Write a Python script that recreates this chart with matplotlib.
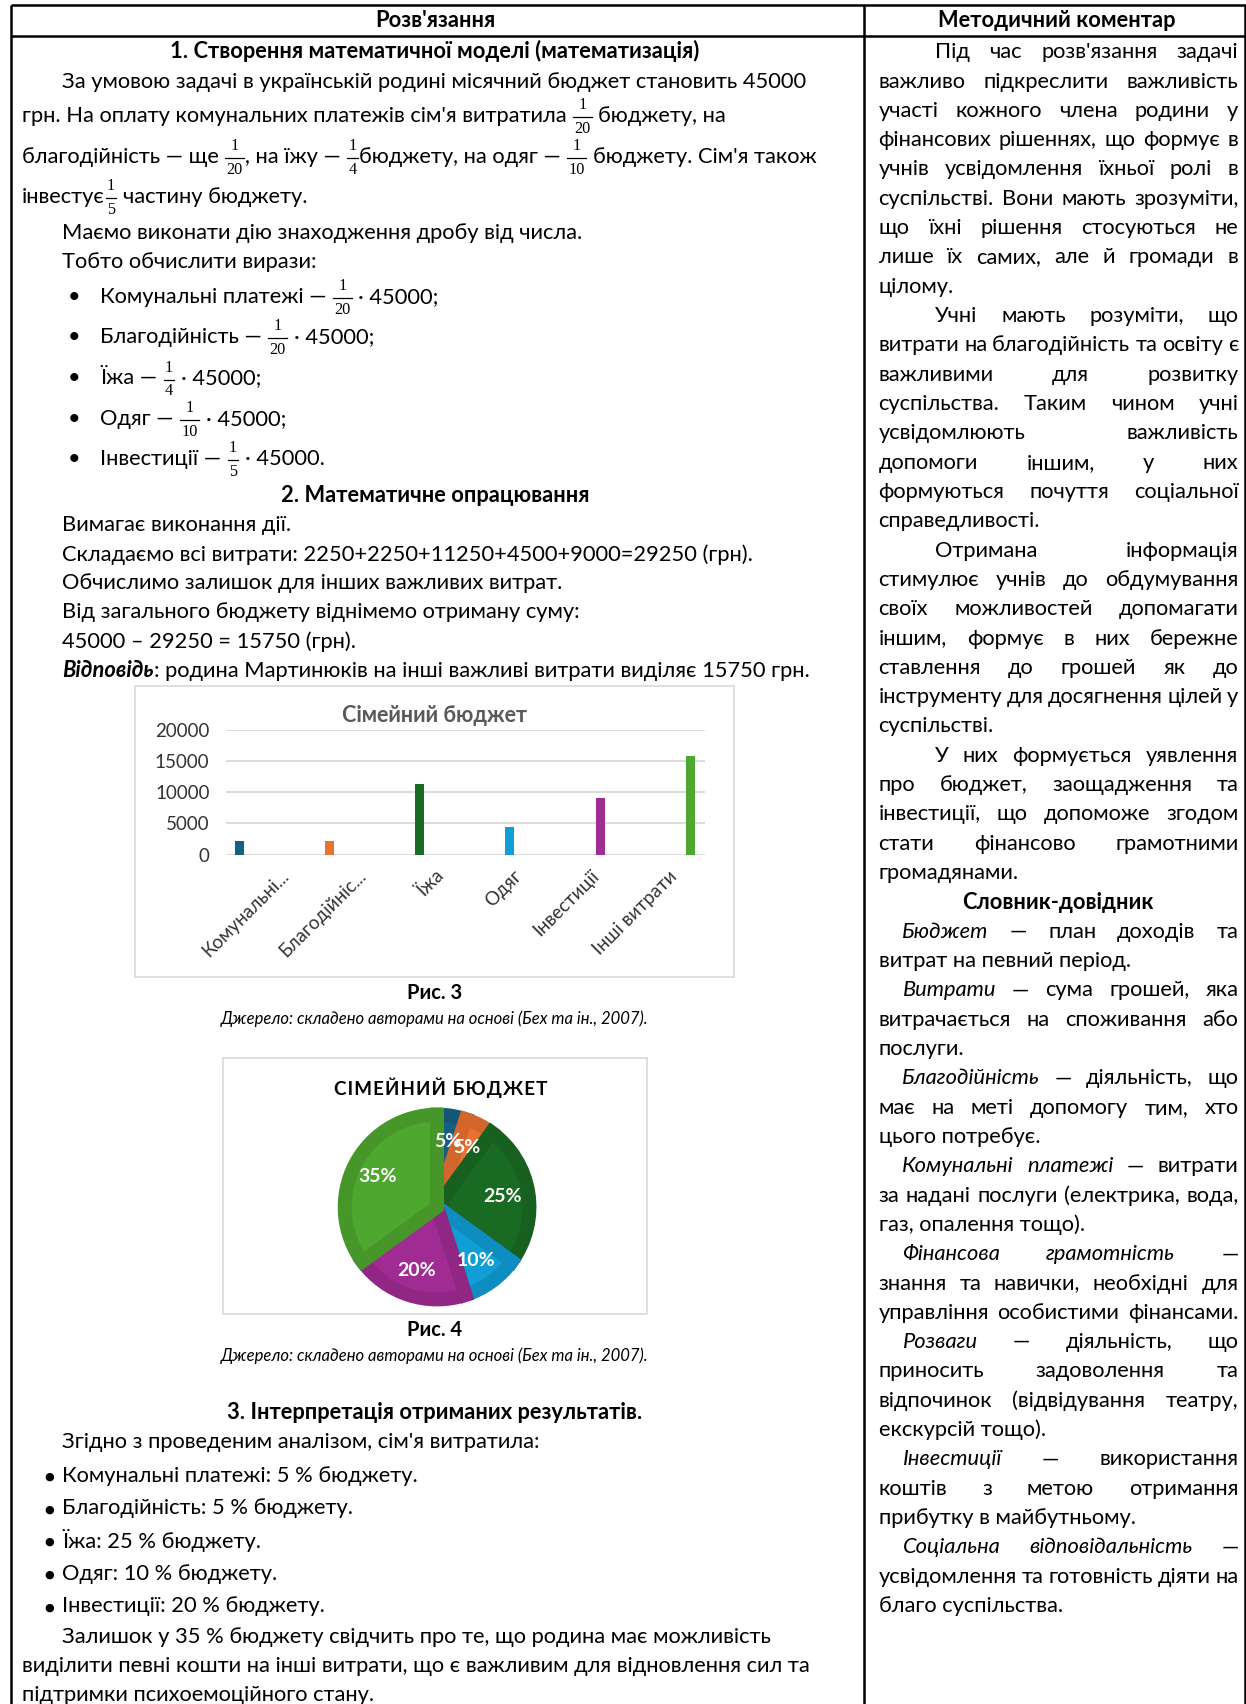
import numpy as np
import matplotlib.pyplot as plt
from matplotlib.patches import Rectangle
from matplotlib.colors import to_rgb

plt.rcParams['font.family'] = ['Lato', 'DejaVu Sans']

# ---- chart data ----
categories = ['Комунальні платежі', 'Благодійність', 'Їжа', 'Одяг', 'Інвестиції', 'Інші витрати']
tick_labels = ['Комунальні...', 'Благодійніс...', 'Їжа', 'Одяг', 'Інвестиції', 'Інші витрати']
amounts = [2250, 2250, 11250, 4500, 9000, 15750]
shares = [5, 5, 25, 10, 20, 35]
fractions = [('1', '20'), ('1', '20'), ('1', '4'), ('1', '10'), ('1', '5')]
colors = ['#156082', '#E97132', '#196B24', '#0F9ED5', '#A02B93', '#4EA72E']
y_ticks = [0, 5000, 10000, 15000, 20000]

# page laid out in units of 1146 x 1567, saved as 1246 x 1704 px
W, H = 1146, 1567
PX = W / 1246.0

fig = plt.figure(figsize=(12.46, 17.04), dpi=100)
ax = fig.add_axes([0, 0, 1, 1])
ax.set_xlim(0, W)
ax.set_ylim(H, 0)
ax.axis('off')
rend = fig.canvas.get_renderer()

STY = {'n': {}, 'b': {'weight': 'bold'}, 'i': {'style': 'italic'},
       'bi': {'weight': 'bold', 'style': 'italic'}}
FS = 16


def put(x, y, s, st='n', size=None, ha='left', **kw):
    return ax.text(x, y, s, ha=ha, va='center', fontsize=size or FS, **STY[st], **kw)


def tw(t):
    return t.get_window_extent(renderer=rend).width * PX


# size body text so that a reference line spans the same width as in the page
_t = put(57, 75, 'За умовою задачі в українській родині місячний бюджет становить 45000')
FS = 16 * 691 / tw(_t)
_t.remove()
_a, _b = put(0, 0, 'x x'), put(0, 0, 'xx')
SP = tw(_a) - tw(_b)
_a.remove()
_b.remove()
FR = FS * 0.74


def frac(x, y, num, den):
    a = ax.text(x, y - 10, num, ha='center', va='center', fontsize=FR, family=['Liberation Serif'])
    b = ax.text(x, y + 12, den, ha='center', va='center', fontsize=FR, family=['Liberation Serif'])
    w = max(tw(a), tw(b)) + 4
    a.set_x(x + w / 2)
    b.set_x(x + w / 2)
    ax.plot([x + 1, x + w - 1], [y + 1, y + 1], color='k', lw=0.9)
    return w


def T(s, st='n'):
    return ('t', s, st)


def Fr(n, d):
    return ('f', n, d)


def seq(x, y, parts):
    for p in parts:
        if p[0] == 'f':
            x += frac(x, y, p[1], p[2])
        else:
            s, st = p[1], p[2]
            if s.startswith(' '):
                x += SP
            t = put(x, y, s.strip(), st)
            x += tw(t)
            if s.endswith(' '):
                x += SP


def just(x0, x1, y, text, n_ital=0):
    words = text.split()
    ts = [put(x0, y, w, 'i' if k < n_ital else 'n') for k, w in enumerate(words)]
    ws = [tw(t) for t in ts]
    gap = (x1 - x0 - sum(ws)) / max(len(ws) - 1, 1)
    x = x0
    for t, w in zip(ts, ws):
        t.set_x(x)
        x += w + gap


# ---- table frame ----
for xs, ys in [([10, 1146], [5, 5]), ([10, 1146], [33, 33]), ([10, 10], [5, H]),
               ([795, 795], [5, H]), ([1145, 1145], [5, H])]:
    ax.plot(xs, ys, color='k', lw=1.8, solid_capstyle='butt')

put(400, 19, "Розв'язання", 'b', ha='center')
put(972, 19, 'Методичний коментар', 'b', ha='center')

# ---- left column ----
put(400, 47, '1. Створення математичної моделі (математизація)', 'b', ha='center')
left_lines = [
    (75, 57, [T('За умовою задачі в українській родині місячний бюджет становить 45000')]),
    (107, 20, [T("грн. На оплату комунальних платежів сім'я витратила "), Fr('1', '20'), T(' бюджету, на')]),
    (144, 20, [T('благодійність — ще '), Fr('1', '20'), T(', на їжу — '), Fr('1', '4'),
               T('бюджету, на одяг — '), Fr('1', '10'), T(" бюджету. Сім'я також")]),
    (181, 20, [T('інвестує'), Fr('1', '5'), T(' частину бюджету.')]),
    (214, 57, [T('Маємо виконати дію знаходження дробу від числа.')]),
    (241, 57, [T('Тобто обчислити вирази:')]),
    (483, 57, [T('Вимагає виконання дії.')]),
    (510, 57, [T('Складаємо всі витрати: 2250+2250+11250+4500+9000=29250 (грн).')]),
    (536, 57, [T('Обчислимо залишок для інших важливих витрат.')]),
    (563, 57, [T('Від загального бюджету віднімемо отриману суму:')]),
    (590, 57, [T('45000 – 29250 = 15750 (грн).')]),
    (617, 57, [T('Відповідь', 'bi'), T(': родина Мартинюків на інші важливі витрати виділяє 15750 грн.')]),
    (1326, 57, [T("Згідно з проведеним аналізом, сім'я витратила:")]),
    (1505, 57, [T('Залишок у 35 % бюджету свідчить про те, що родина має можливість')]),
    (1532, 20, [T('виділити певні кошти на інші витрати, що є важливим для відновлення сил та')]),
    (1559, 20, [T('підтримки психоемоційного стану.')]),
]
for y, x, parts in left_lines:
    seq(x, y, parts)

bullet_y = [273, 310, 348, 385, 422]
for k, (y, name, (n, d)) in enumerate(zip(bullet_y, categories, fractions)):
    put(62, y, '•')
    end = '.' if k == len(bullet_y) - 1 else ';'
    seq(92, y, [T(name + ' — '), Fr(n, d), T(' · 45000' + end)])

put(400, 456, '2. Математичне опрацювання', 'b', ha='center')
put(400, 1299, '3. Інтерпретація отриманих результатів.', 'b', ha='center')

for y, name, p in zip([1357, 1387, 1417, 1447, 1477], categories, shares):
    put(41, y + 1, '●', size=8, family=['DejaVu Sans'])
    put(57, y, f'{name}: {p} % бюджету.')

# captions
for y0, fig_no in [(913, 'Рис. 3'), (1223, 'Рис. 4')]:
    put(400, y0, fig_no, 'b', size=FS * 0.92, ha='center')
    put(400, y0 + 24, 'Джерело: складено авторами на основі (Бех та ін., 2007).', 'i',
        size=FS * 0.76, ha='center')

# ---- right column ----
right_lines = [
    ('p', 0, "Під час розв'язання задачі"),
    ('j', 0, 'важливо підкреслити важливість'),
    ('j', 0, 'участі кожного члена родини у'),
    ('j', 0, 'фінансових рішеннях, що формує в'),
    ('j', 0, 'учнів усвідомлення їхньої ролі в'),
    ('j', 0, 'суспільстві. Вони мають зрозуміти,'),
    ('j', 0, 'що їхні рішення стосуються не'),
    ('j', 0, 'лише їх самих, але й громади в'),
    ('l', 0, 'цілому.'),
    ('p', 0, 'Учні мають розуміти, що'),
    ('j', 0, 'витрати на благодійність та освіту є'),
    ('j', 0, 'важливими для розвитку'),
    ('j', 0, 'суспільства. Таким чином учні'),
    ('j', 0, 'усвідомлюють важливість'),
    ('j', 0, 'допомоги іншим, у них'),
    ('j', 0, 'формуються почуття соціальної'),
    ('l', 0, 'справедливості.'),
    ('p', 0, 'Отримана інформація'),
    ('j', 0, 'стимулює учнів до обдумування'),
    ('j', 0, 'своїх можливостей допомагати'),
    ('j', 0, 'іншим, формує в них бережне'),
    ('j', 0, 'ставлення до грошей як до'),
    ('j', 0, 'інструменту для досягнення цілей у'),
    ('l', 0, 'суспільстві.'),
    ('p', 0, 'У них формується уявлення'),
    ('j', 0, 'про бюджет, заощадження та'),
    ('j', 0, 'інвестиції, що допоможе згодом'),
    ('j', 0, 'стати фінансово грамотними'),
    ('l', 0, 'громадянами.'),
    ('c', 0, 'Словник-довідник'),
    ('g', 1, 'Бюджет — план доходів та'),
    ('l', 0, 'витрат на певний період.'),
    ('g', 1, 'Витрати — сума грошей, яка'),
    ('j', 0, 'витрачається на споживання або'),
    ('l', 0, 'послуги.'),
    ('g', 1, 'Благодійність — діяльність, що'),
    ('j', 0, 'має на меті допомогу тим, хто'),
    ('l', 0, 'цього потребує.'),
    ('g', 2, 'Комунальні платежі — витрати'),
    ('j', 0, 'за надані послуги (електрика, вода,'),
    ('l', 0, 'газ, опалення тощо).'),
    ('g', 2, 'Фінансова грамотність —'),
    ('j', 0, 'знання та навички, необхідні для'),
    ('j', 0, 'управління особистими фінансами.'),
    ('g', 1, 'Розваги — діяльність, що'),
    ('j', 0, 'приносить задоволення та'),
    ('j', 0, 'відпочинок (відвідування театру,'),
    ('l', 0, 'екскурсій тощо).'),
    ('g', 1, 'Інвестиції — використання'),
    ('j', 0, 'коштів з метою отримання'),
    ('l', 0, 'прибутку в майбутньому.'),
    ('g', 2, 'Соціальна відповідальність —'),
    ('j', 0, 'усвідомлення та готовність діяти на'),
    ('l', 0, 'благо суспільства.'),
]
RX0, RX1 = 808, 1139
for k, (mode, n_it, text) in enumerate(right_lines):
    y = 48 + k * 26.96
    if mode == 'p':
        just(RX0 + 52, RX1, y, text)
    elif mode == 'g':
        just(RX0 + 22, RX1, y, text, n_it)
    elif mode == 'j':
        just(RX0, RX1, y, text)
    elif mode == 'c':
        put(973, y, text, 'b', ha='center')
    else:
        put(RX0, y, text)

# ---- bar chart (Рис. 3) ----
ax.add_patch(Rectangle((124, 631), 551, 267, fill=False, ec='#D9D9D9', lw=1.2))
put(400, 658, 'Сімейний бюджет', 'b', size=15.5, ha='center', color='#595959')
bx = fig.add_axes([208 / W, 1 - 786 / H, 440 / W, 115 / H])
pos = np.arange(len(amounts))
bx.bar(pos, amounts, width=0.1, color=colors, zorder=3)
bx.set_xlim(-0.145, 5.157)
bx.set_ylim(0, 20000)
bx.set_yticks(y_ticks)
bx.set_yticklabels([str(v) for v in y_ticks])
bx.grid(axis='y', color='#D9D9D9', lw=1.3)
bx.set_axisbelow(True)
for s in bx.spines.values():
    s.set_visible(False)
bx.patch.set_alpha(0)
bx.tick_params(length=0, labelsize=13.5, labelcolor='#333333')
bx.tick_params(axis='y', pad=12)
bx.tick_params(axis='x', pad=9)
bx.set_xticks(pos * 0.86 + 0.45)
bx.set_xticklabels(tick_labels, rotation=45, ha='right', rotation_mode='anchor')

# ---- pie chart (Рис. 4) ----
ax.add_patch(Rectangle((205, 973), 390, 235, fill=False, ec='#D9D9D9', lw=1.2))
put(405, 1000, '\u200a'.join('СІМЕЙНИЙ БЮДЖЕТ'), 'b', size=13.5, ha='center')
R = 85
pxa = fig.add_axes([(402 - R) / W, 1 - (1110 + R) / H, 2 * R / W, 2 * R / H])
wedges, _, autos = pxa.pie(shares, colors=colors, startangle=90, counterclock=False,
                           autopct='%.0f%%', pctdistance=0.72,
                           textprops=dict(color='white', weight='bold', fontsize=14))
for w, c in zip(wedges, colors):
    w.set_edgecolor(tuple(np.array(to_rgb(c)) * 0.9))
    w.set_linewidth(10)
    w.set_clip_path(w)
pxa.set_xlim(-1, 1)
pxa.set_ylim(-1, 1)

fig.savefig('out.png', dpi=100)
